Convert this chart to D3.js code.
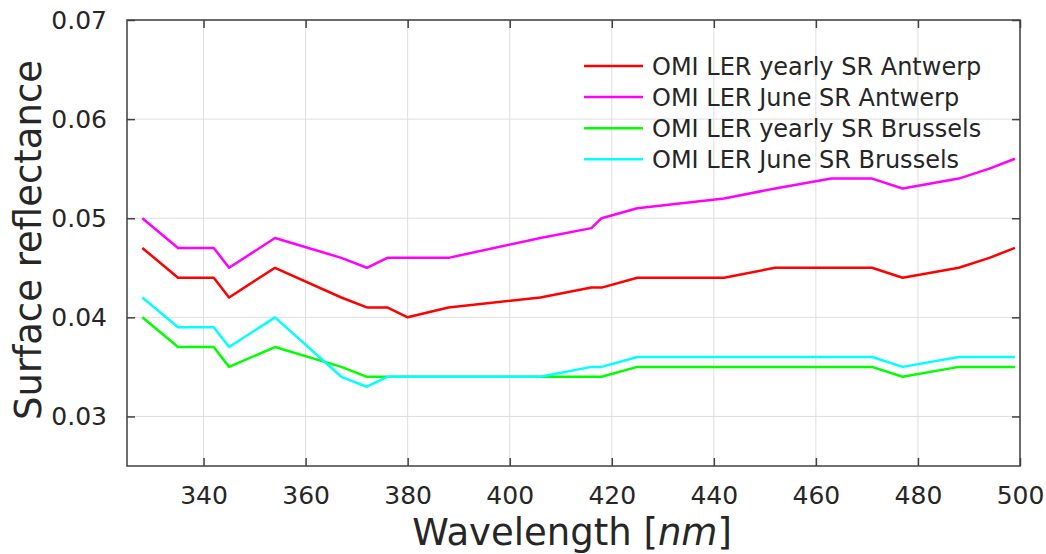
<!DOCTYPE html>
<html>
<head>
<meta charset="utf-8">
<style>
    body { margin: 0; background: #fff; }
    svg text { font-family: "DejaVu Sans", sans-serif; fill: #262626; }
    .grid line { stroke: #dedede; stroke-width: 1; }
    .line { fill: none; stroke-width: 2.5; stroke-linejoin: round; }
</style>
</head>
<body>
<svg width="1046" height="554"></svg>
<script src="https://cdn.jsdelivr.net/npm/d3@7"></script>
<script>

// wavelengths (nm) shared by every series
var wavelength = [328, 335, 342, 345, 354, 367, 372, 376, 380, 388, 406, 416, 418, 425, 442, 452, 463, 471, 477, 488, 494, 499];

var yearlyAntwerp  = [0.047, 0.044, 0.044, 0.042, 0.045, 0.042, 0.041, 0.041, 0.040, 0.041, 0.042, 0.043, 0.043, 0.044, 0.044, 0.045, 0.045, 0.045, 0.044, 0.045, 0.046, 0.047];
var juneAntwerp    = [0.050, 0.047, 0.047, 0.045, 0.048, 0.046, 0.045, 0.046, 0.046, 0.046, 0.048, 0.049, 0.050, 0.051, 0.052, 0.053, 0.054, 0.054, 0.053, 0.054, 0.055, 0.056];
var yearlyBrussels = [0.040, 0.037, 0.037, 0.035, 0.037, 0.035, 0.034, 0.034, 0.034, 0.034, 0.034, 0.034, 0.034, 0.035, 0.035, 0.035, 0.035, 0.035, 0.034, 0.035, 0.035, 0.035];
var juneBrussels   = [0.042, 0.039, 0.039, 0.037, 0.040, 0.034, 0.033, 0.034, 0.034, 0.034, 0.034, 0.035, 0.035, 0.036, 0.036, 0.036, 0.036, 0.036, 0.035, 0.036, 0.036, 0.036];

var seriesNames  = ["OMI LER yearly SR Antwerp", "OMI LER June SR Antwerp", "OMI LER yearly SR Brussels", "OMI LER June SR Brussels"];
var seriesColors = ["#ff0000", "#ff00ff", "#00ff00", "#00ffff"];
var seriesValues = [yearlyAntwerp, juneAntwerp, yearlyBrussels, juneBrussels];

var xTicks = [340, 360, 380, 400, 420, 440, 460, 480, 500];
var yTicks = [0.03, 0.04, 0.05, 0.06, 0.07];

var svg = d3.select("svg"),
    margin = { top: 20, right: 26, bottom: 88, left: 127 },
    width = +svg.attr("width") - margin.left - margin.right,
    height = +svg.attr("height") - margin.top - margin.bottom,
    g = svg.append("g").attr("transform", "translate(" + margin.left + "," + margin.top + ")");

var x = d3.scaleLinear().domain([325, 500]).range([0, width]);
var y = d3.scaleLinear().domain([0.025, 0.07]).range([height, 0]);

// grid
g.append("g").attr("class", "grid")
    .selectAll("line").data(xTicks).enter().append("line")
    .attr("x1", d => x(d)).attr("x2", d => x(d))
    .attr("y1", 0).attr("y2", height);
g.append("g").attr("class", "grid")
    .selectAll("line").data(yTicks).enter().append("line")
    .attr("y1", d => y(d)).attr("y2", d => y(d))
    .attr("x1", 0).attr("x2", width);

// series
var line = d3.line()
    .x((d, i) => x(wavelength[i]))
    .y(d => y(d));

g.selectAll(".line")
    .data(seriesValues)
    .enter().append("path")
    .attr("class", "line")
    .attr("stroke", (d, i) => seriesColors[i])
    .attr("d", line);

// axes (MATLAB-style box with inward ticks)
var tick = 8;
function styleAxis(sel) {
    sel.select(".domain").remove();
    sel.selectAll(".tick line").attr("stroke", "#404040").attr("stroke-width", 1.5);
    sel.selectAll(".tick text").style("font-size", "25px").attr("fill", "#262626");
}

g.append("g")
    .attr("transform", "translate(0," + height + ")")
    .call(d3.axisBottom(x).tickValues(xTicks).tickSizeInner(-tick).tickSizeOuter(0).tickPadding(20).tickFormat(d3.format("d")))
    .call(styleAxis);

g.append("g")
    .call(d3.axisTop(x).tickValues(xTicks).tickSizeInner(-tick).tickSizeOuter(0).tickFormat(""))
    .call(styleAxis);

g.append("g")
    .call(d3.axisLeft(y).tickValues(yTicks).tickSizeInner(-tick).tickSizeOuter(0).tickPadding(20).tickFormat(d3.format(".2f")))
    .call(styleAxis);

g.append("g")
    .attr("transform", "translate(" + width + ",0)")
    .call(d3.axisRight(y).tickValues(yTicks).tickSizeInner(-tick).tickSizeOuter(0).tickFormat(""))
    .call(styleAxis);

g.append("rect")
    .attr("width", width).attr("height", height)
    .attr("fill", "none").attr("stroke", "#404040").attr("stroke-width", 1.5);

// axis labels
svg.append("text")
    .attr("x", 572)
    .attr("y", 545)
    .attr("text-anchor", "middle")
    .style("font-size", "37px")
    .html("Wavelength [<tspan font-style='italic'>nm</tspan>]");

svg.append("text")
    .attr("transform", "translate(41,240) rotate(-90)")
    .attr("text-anchor", "middle")
    .style("font-size", "37px")
    .text("Surface reflectance");

// legend
var legend = svg.append("g").attr("transform", "translate(584,66)");
var rows = legend.selectAll("g").data(seriesNames).enter().append("g")
    .attr("transform", (d, i) => "translate(0," + (i * 31.1) + ")");
rows.append("line")
    .attr("x1", 0).attr("x2", 59)
    .attr("stroke", (d, i) => seriesColors[i])
    .attr("stroke-width", 2.5);
rows.append("text")
    .attr("x", 68)
    .attr("dy", "0.36em")
    .style("font-size", "24px")
    .text(d => d);

</script>
</body>
</html>
